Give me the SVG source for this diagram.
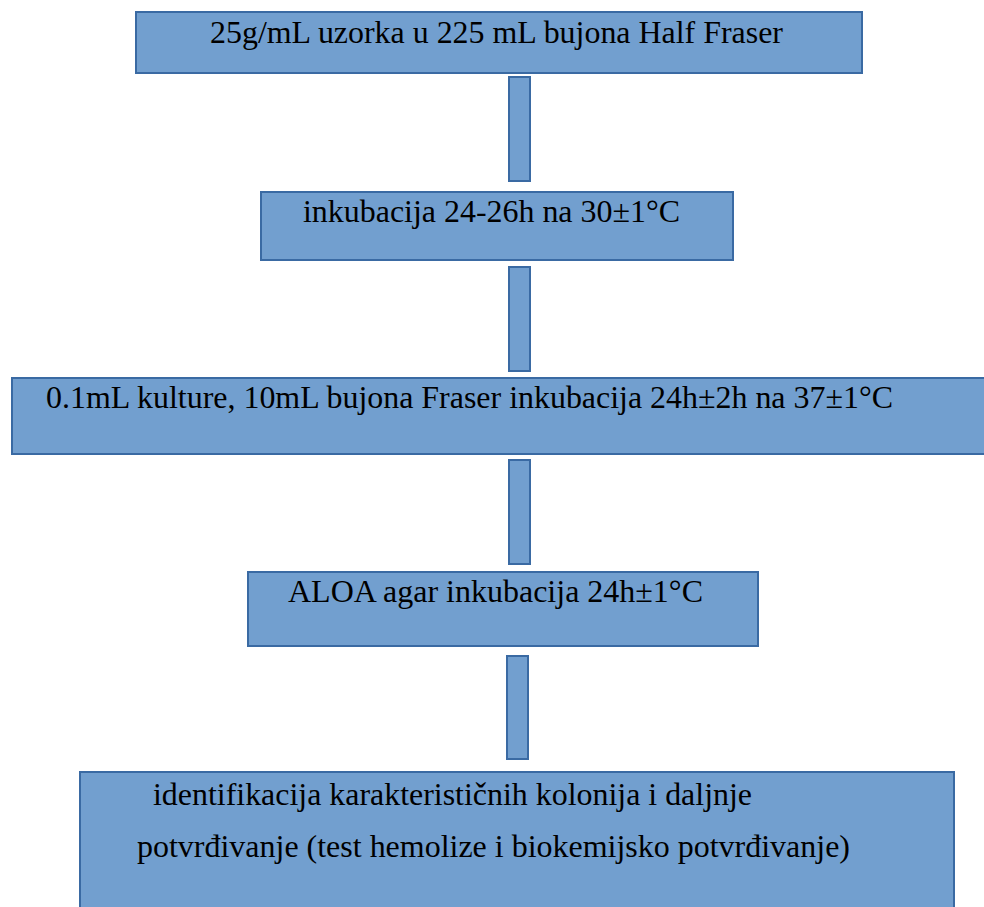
<svg xmlns="http://www.w3.org/2000/svg" width="984" height="907" viewBox="0 0 984 907">
<style>
.box{fill:#729fcf;stroke:#3a6aa3;stroke-width:2}
.con{fill:#729fcf;stroke:#3a6aa3;stroke-width:2}
text{font-family:"Liberation Serif","Times New Roman",serif;font-size:31px;fill:#000}
</style>
<rect width="984" height="907" fill="#fff"/>
<g id="connectors">
<rect class="con" x="509" y="77" width="21" height="104"/>
<rect class="con" x="509" y="267" width="21" height="104"/>
<rect class="con" x="509" y="460" width="21" height="104"/>
<rect class="con" x="507" y="656" width="21" height="103"/>
</g>
<g id="n1">
<rect class="box" x="136" y="12" width="726" height="61"/>
<text x="210" y="43" textLength="573" lengthAdjust="spacingAndGlyphs">25g/mL uzorka u 225 mL bujona Half Fraser</text>
</g>
<g id="n2">
<rect class="box" x="261" y="192" width="472" height="68"/>
<text x="303" y="222" textLength="377" lengthAdjust="spacingAndGlyphs">inkubacija 24-26h na 30±1°C</text>
</g>
<g id="n3">
<rect class="box" x="12" y="378" width="980" height="76"/>
<text x="46" y="408" textLength="847" lengthAdjust="spacingAndGlyphs">0.1mL kulture, 10mL bujona Fraser inkubacija 24h±2h na 37±1°C</text>
</g>
<g id="n4">
<rect class="box" x="248" y="572" width="510" height="74"/>
<text x="288" y="602" textLength="415" lengthAdjust="spacingAndGlyphs">ALOA agar inkubacija 24h±1°C</text>
</g>
<g id="n5">
<rect class="box" x="80" y="772" width="874" height="145"/>
<text x="153" y="805" textLength="599" lengthAdjust="spacingAndGlyphs">identifikacija karakterističnih kolonija i daljnje</text>
<text x="137" y="857" textLength="713" lengthAdjust="spacingAndGlyphs">potvrđivanje (test hemolize i biokemijsko potvrđivanje)</text>
</g>
</svg>
